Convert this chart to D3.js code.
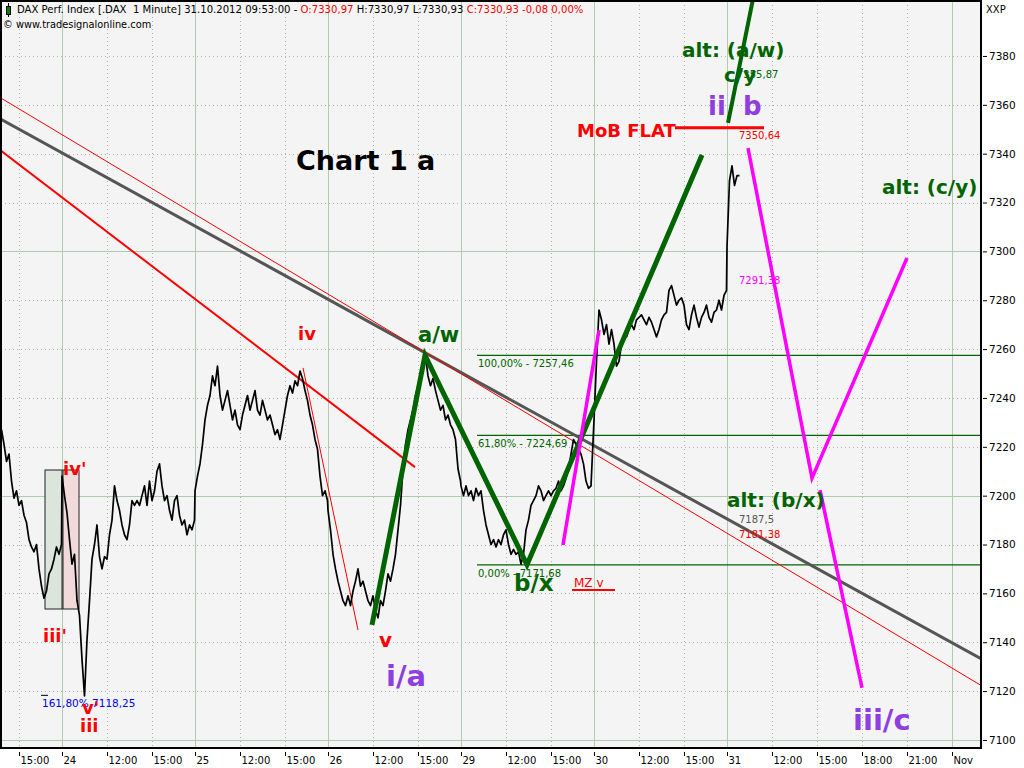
<!DOCTYPE html>
<html><head><meta charset="utf-8">
<script src="https://cdn.jsdelivr.net/npm/d3@7"></script>
<style>
body{margin:0;background:#fff;}
svg{display:block;}
text{font-family:"DejaVu Sans",sans-serif;}
</style></head><body>
<svg id="c" width="1024" height="768"></svg>
<script>
// ---------- DATA ----------
const sessions = ["23","24","25","26","29","30","31"];
const priceStart = ["13:50","09:00","09:00","09:00","09:00","09:00","09:00"];
const priceStep = 10; // minutes
const price23 = [7227,7221,7214,7217,7206,7199,7202,7196,7198,7192,7189,7182,7179,7177,7180,7170,7163,7158,7161,7168,7170,7174,7179,7176,7180];
const price24 = [7208,7200,7193,7182,7172,7176,7157,7151,7133,7118,7141,7157,7174,7180,7188,7175,7170,7175,7174,7184,7190,7204,7198,7194,7188,7184,7182,7188,7198,7196,7198,7196,7200,7204,7196,7206,7198,7202,7210,7213,7204,7198,7200,7194,7190,7198,7200,7192,7188,7190,7184,7188,7186,7190];
const price25 = [7202,7208,7213,7221,7231,7237,7241,7249,7245,7253,7241,7235,7239,7243,7237,7231,7235,7229,7227,7233,7237,7241,7235,7239,7243,7235,7233,7239,7235,7231,7233,7229,7225,7227,7223,7229,7235,7241,7245,7242,7247,7245,7251,7248,7243,7239,7233,7229,7223,7219,7208,7200,7202,7198];
const price26 = [7194,7186,7176,7170,7165,7161,7157,7155,7159,7155,7161,7165,7170,7163,7165,7161,7157,7155,7159,7153,7150,7157,7155,7161,7168,7165,7170,7176,7186,7196,7211,7221,7227,7231,7235,7241,7245,7249,7253,7257,7249,7245,7248,7243,7239,7235,7237,7231,7233,7229,7227,7223,7211,7206];
const price29 = [7204,7200,7204,7200,7202,7198,7203,7200,7202,7194,7188,7184,7180,7182,7179,7182,7180,7184,7186,7180,7176,7178,7176,7177,7172,7176,7186,7190,7196,7198,7200,7204,7202,7198,7200,7202,7200,7202,7203,7206,7202,7204,7207,7211,7217,7223,7221,7219,7217,7213,7206,7203,7204];
const price30 = [7231,7255,7276,7272,7266,7270,7262,7268,7262,7253,7255,7262,7266,7265,7268,7270,7268,7272,7273,7274,7272,7270,7273,7271,7268,7265,7268,7272,7274,7275,7284,7286,7282,7278,7280,7281,7278,7270,7268,7274,7278,7273,7269,7273,7275,7278,7273,7271,7275,7276,7280,7276,7282,7284];
const price31 = [7302,7329,7335,7327,7331,7331];

const yTicks = [7100,7120,7140,7160,7180,7200,7220,7240,7260,7280,7300,7320,7340,7360,7380];
const yMajor = [7100,7200,7300];
const xTickTimes = [["23","15:00"],["24","09:00"],["24","12:00"],["24","15:00"],["25","09:00"],["25","12:00"],["25","15:00"],["26","09:00"],["26","12:00"],["26","15:00"],["29","09:00"],["29","12:00"],["29","15:00"],["30","09:00"],["30","12:00"],["30","15:00"],["31","09:00"],["31","12:00"],["31","15:00"],["31","18:00"],["31","21:00"],["31","24:00"]];
const xTickLabels = ["15:00","24","12:00","15:00","25","12:00","15:00","26","12:00","15:00","29","12:00","15:00","30","12:00","15:00","31","12:00","15:00","18:00","21:00","Nov"];

const fibLevels = [7257.46, 7224.69, 7171.68];
const fibLabels = ["100,00% - 7257,46", "61,80% - 7224,69", "0,00% - 7171,68"];
const fibFrom = ["29","10:04"];

const grayTrend = [["23","13:44",7354.3],["31","09:53",7187.5]];
const redTrendThin = [["23","13:44",7363.0],["31","09:53",7181.38]];
const redTrendThick = [["23","13:44",7341.5],["26","14:48",7211.7]];
const redIvV = [["25","16:12",7252.3],["26","11:00",7145.0]];
const greenPath = [["26","11:56",7147.1],["26","15:28",7257.46],["29","13:24",7171.68],["30","16:12",7339.5]];
const greenAlt = [["31","09:04",7352.6],["31","10:44",7403.3]];
const magentaShort = [["29","15:48",7179.8],["30","09:20",7267.8]];
const magentaV = [["31","10:24",7342.3],["31","14:40",7207.2],["31","21:00",7297.3]];
const magentaDown = [["31","15:12",7202.3],["31","18:00",7121.3]];
const mobFlat = [["30","14:24",7350.64],["31","11:28",7350.64]];
const mzLine = [["29","16:24",7161.4],["30","10:24",7161.4]];
const fibExtDash = [["23","16:28",7118.25],["23","16:56",7118.25]];
const boxIii = [["23","16:44",7153.6],["24","09:00",7210.5]];
const boxIv = [["24","09:04",7153.6],["24","10:08",7210.5]];

const annotations = [
  {text:"Chart 1 a", day:"25", time:"15:44", price:7333.3, cls:"title"},
  {text:"iv", day:"25", time:"15:52", price:7263.7, cls:"redM"},
  {text:"a/w", day:"26", time:"15:00", price:7262.9, cls:"greenM"},
  {text:"v", day:"26", time:"12:24", price:7138.1, cls:"redL"},
  {text:"i/a", day:"26", time:"12:52", price:7122.1, cls:"purpleL"},
  {text:"b/x", day:"29", time:"12:32", price:7161.0, cls:"greenL"},
  {text:"MZ v", day:"29", time:"16:32", price:7162.8, cls:"noteRedM"},
  {text:"alt: (a/w)", day:"30", time:"14:52", price:7379.6, cls:"green"},
  {text:"7355,87", day:"31", time:"09:40", price:7371.0, cls:"noteGreen"},
  {text:"c/y", day:"30", time:"17:40", price:7369.3, cls:"green"},
  {text:"ii", day:"30", time:"16:36", price:7355.8, cls:"purpleM"},
  {text:"b", day:"31", time:"10:04", price:7355.8, cls:"purpleM"},
  {text:"MoB FLAT", day:"29", time:"16:44", price:7346.8, cls:"redM"},
  {text:"7350,64", day:"31", time:"09:48", price:7346.0, cls:"noteRed"},
  {text:"7291,38", day:"31", time:"09:48", price:7286.7, cls:"noteMagenta"},
  {text:"alt: (c/y)", day:"31", time:"19:20", price:7323.5, cls:"green"},
  {text:"alt: (b/x)", day:"31", time:"09:00", price:7195.4, cls:"green"},
  {text:"7187,5", day:"31", time:"09:48", price:7188.8, cls:"noteGray"},
  {text:"7181,38", day:"31", time:"09:48", price:7182.7, cls:"noteRed"},
  {text:"iii/c", day:"31", time:"17:24", price:7104.1, cls:"purpleL"},
  {text:"iv'", day:"24", time:"09:04", price:7208.5, cls:"redM"},
  {text:"iii'", day:"23", time:"16:36", price:7140.1, cls:"redM"},
  {text:"161,80% 7118,25", day:"23", time:"16:32", price:7113.5, cls:"noteBlue"},
  {text:"v'", day:"24", time:"10:20", price:7110.8, cls:"redM"},
  {text:"iii", day:"24", time:"10:12", price:7103.3, cls:"redM"}
];

const headerParts = [["DAX Perf. Index [.DAX  1 Minute] 31.10.2012 09:53:00 - ","#000"],["O:7330,97","#ff0000"],[" H:7330,97 L:7330,93 ","#000"],["C:7330,93 -0,08 0,00%","#ff0000"]];
const headerLine2 = "\u00a9 www.tradesignalonline.com";
const unitLabel = "XXP";

// ---------- HELPERS ----------
const SESSION_MIN = 532;
function T(day, hhmm){ const [h,m] = hhmm.split(":").map(Number); return sessions.indexOf(day)*SESSION_MIN + h*60 + m - 540; }

const L = 1, R = 981, TOP = 1, B = 748;
const x = d3.scaleLinear().domain([T("23","13:48"), T("31","25:56")]).range([L, R]);
const y = d3.scaleLinear().domain([7096.7, 7402.5]).range([B, TOP]);

const svg = d3.select("#c");
const P = p => [x(T(p[0],p[1])), y(p[2])];
const line = d3.line();

svg.append("defs").append("clipPath").attr("id","clip").append("rect")
  .attr("x",L).attr("y",TOP).attr("width",R-L).attr("height",B-TOP);

svg.append("rect").attr("x",L).attr("y",TOP).attr("width",R-L).attr("height",B-TOP).attr("fill","#f4f4f4");

const g = svg.append("g").attr("clip-path","url(#clip)");

// grid horizontal
g.selectAll(".hg").data(yTicks).join("line")
  .attr("x1",L).attr("x2",R).attr("y1",d=>Math.round(y(d))+0.5).attr("y2",d=>Math.round(y(d))+0.5)
  .attr("stroke",d=>yMajor.includes(d)?"#b2c9b2":"#a9b9a9")
  .attr("stroke-dasharray",d=>yMajor.includes(d)?null:"1,3");
// grid vertical
const xTickT = xTickTimes.map(d=>T(d[0],d[1]));
g.selectAll(".vg").data(xTickT).join("line")
  .attr("x1",d=>Math.round(x(d))+0.5).attr("x2",d=>Math.round(x(d))+0.5).attr("y1",TOP).attr("y2",B)
  .attr("stroke",(d,i)=>xTickLabels[i].includes(":")?"#a9b9a9":"#b2c9b2")
  .attr("stroke-dasharray",(d,i)=>xTickLabels[i].includes(":")?"1,3":null);

// boxes
function box(b, fill){
  const p0 = P(b[0]), p1 = P(b[1]);
  g.append("rect").attr("x",p0[0]).attr("y",p1[1]).attr("width",p1[0]-p0[0]).attr("height",p0[1]-p1[1])
   .attr("fill",fill).attr("stroke","#222").attr("stroke-width",1);
}
box(boxIii, "#dbe5db");
box(boxIv, "#f3dada");

// fib lines
const fibX0 = x(T(fibFrom[0], fibFrom[1]));
g.selectAll(".fib").data(fibLevels).join("line")
  .attr("x1",fibX0).attr("x2",R).attr("y1",d=>y(d)).attr("y2",d=>y(d))
  .attr("stroke","#006400").attr("stroke-width",1.2);
g.selectAll(".fibt").data(fibLevels).join("text")
  .attr("x",fibX0+1).attr("y",d=>y(d)+12).attr("font-size",10).attr("fill","#006400")
  .text((d,i)=>fibLabels[i]);

// extended trend lines
function extend(a, b){
  const t1 = T(a[0],a[1]), t2 = T(b[0],b[1]);
  const s = (b[2]-a[2])/(t2-t1);
  const [d0,d1] = x.domain();
  return [[x(d0), y(a[2]+s*(d0-t1))],[x(d1), y(a[2]+s*(d1-t1))]];
}
g.append("path").attr("d",line(extend(grayTrend[0],grayTrend[1]))).attr("stroke","#555").attr("stroke-width",3).attr("fill","none");
g.append("path").attr("d",line(extend(redTrendThin[0],redTrendThin[1]))).attr("stroke","#ff0000").attr("stroke-width",1).attr("fill","none");
g.append("path").attr("d",line(redTrendThick.map(P))).attr("stroke","#ff0000").attr("stroke-width",2).attr("fill","none");
g.append("path").attr("d",line(redIvV.map(P))).attr("stroke","#ff0000").attr("stroke-width",1).attr("fill","none");

// price
const pricePts = [];
[price23,price24,price25,price26,price29,price30,price31].forEach((arr,i)=>{
  const t0 = T(sessions[i], priceStart[i]);
  arr.forEach((p,k)=>pricePts.push([x(t0+k*priceStep), y(p)]));
});
g.append("path").attr("d",line(pricePts)).attr("stroke","#000").attr("stroke-width",1.7).attr("fill","none").attr("stroke-linejoin","round");

// fib ext dash
g.append("path").attr("d",line(fibExtDash.map(P))).attr("stroke","#000").attr("stroke-width",1);

// green wave lines
g.append("path").attr("d",line(greenPath.map(P))).attr("stroke","#006400").attr("stroke-width",5).attr("fill","none");
g.append("path").attr("d",line(greenAlt.map(P))).attr("stroke","#006400").attr("stroke-width",4).attr("fill","none");
// magenta
[magentaShort, magentaV, magentaDown].forEach(m=>{
  g.append("path").attr("d",line(m.map(P))).attr("stroke","#ff00ff").attr("stroke-width",3.5).attr("fill","none");
});
// red horizontals
g.append("path").attr("d",line(mobFlat.map(P))).attr("stroke","#ff0000").attr("stroke-width",3);
g.append("path").attr("d",line(mzLine.map(P))).attr("stroke","#ff0000").attr("stroke-width",2);

// annotations
const styles = {
  title:{fill:"#000",size:27,weight:"bold"},
  redM:{fill:"#ff0000",size:18,weight:"bold"},
  redL:{fill:"#ff0000",size:20,weight:"bold"},
  green:{fill:"#006400",size:20,weight:"bold"},
  greenM:{fill:"#006400",size:21,weight:"bold"},
  greenL:{fill:"#006400",size:23,weight:"bold"},
  purpleM:{fill:"#8f3fe0",size:26,weight:"bold"},
  purpleL:{fill:"#8f3fe0",size:29,weight:"bold"},
  noteRed:{fill:"#ff0000",size:10,weight:"normal"},
  noteRedM:{fill:"#ff0000",size:12,weight:"normal"},
  noteGreen:{fill:"#006400",size:10,weight:"normal"},
  noteGray:{fill:"#555",size:10,weight:"normal"},
  noteMagenta:{fill:"#ff00ff",size:10,weight:"normal"},
  noteBlue:{fill:"#0000ff",size:10.5,weight:"normal"}
};
g.selectAll(".ann").data(annotations).join("text")
  .attr("x",d=>x(T(d.day,d.time))).attr("y",d=>y(d.price))
  .attr("fill",d=>styles[d.cls].fill).attr("font-size",d=>styles[d.cls].size)
  .attr("font-weight",d=>styles[d.cls].weight)
  .text(d=>d.text);

// header
const h1 = svg.append("text").attr("x",17).attr("y",13).attr("font-family","Liberation Sans, Arial, sans-serif").attr("font-size",10.1).style("white-space","pre");
headerParts.forEach(p=>h1.append("tspan").attr("fill",p[1]).text(p[0]));
svg.append("text").attr("x",3).attr("y",28).attr("font-family","Liberation Sans, Arial, sans-serif").attr("font-size",9.8).text(headerLine2);
// icon
svg.append("line").attr("x1",8.5).attr("x2",8.5).attr("y1",3).attr("y2",17).attr("stroke","#000");
svg.append("rect").attr("x",6.5).attr("y",6.5).attr("width",4).attr("height",8).attr("fill","#008000").attr("stroke","#000");

// axes
const xAxis = d3.axisBottom(x).tickValues(xTickT).tickFormat((d,i)=>xTickLabels[i]).tickSize(4);
const xa = svg.append("g").attr("transform","translate(0,752)").call(xAxis);
xa.select(".domain").remove();
xa.selectAll("text").attr("text-anchor","start").attr("x",1).attr("y",5).attr("font-family","DejaVu Sans").attr("font-size",10).attr("fill","#000");
xa.selectAll("line").attr("stroke","#000");

const yAxis = d3.axisRight(y).tickValues(yTicks).tickFormat(d=>d).tickSize(4).tickPadding(2);
const ya = svg.append("g").attr("transform","translate(983,0)").call(yAxis);
ya.select(".domain").remove();
ya.selectAll("text").attr("font-family","DejaVu Sans").attr("font-size",10.5).attr("fill","#000");
ya.selectAll("line").attr("stroke","#000");

svg.append("text").attr("x",986).attr("y",13).attr("font-size",10).text(unitLabel);

// frame
svg.append("rect").attr("x",L).attr("y",TOP).attr("width",R-L).attr("height",B-TOP)
  .attr("fill","none").attr("stroke","#000").attr("stroke-width",2);
</script>
</body></html>
